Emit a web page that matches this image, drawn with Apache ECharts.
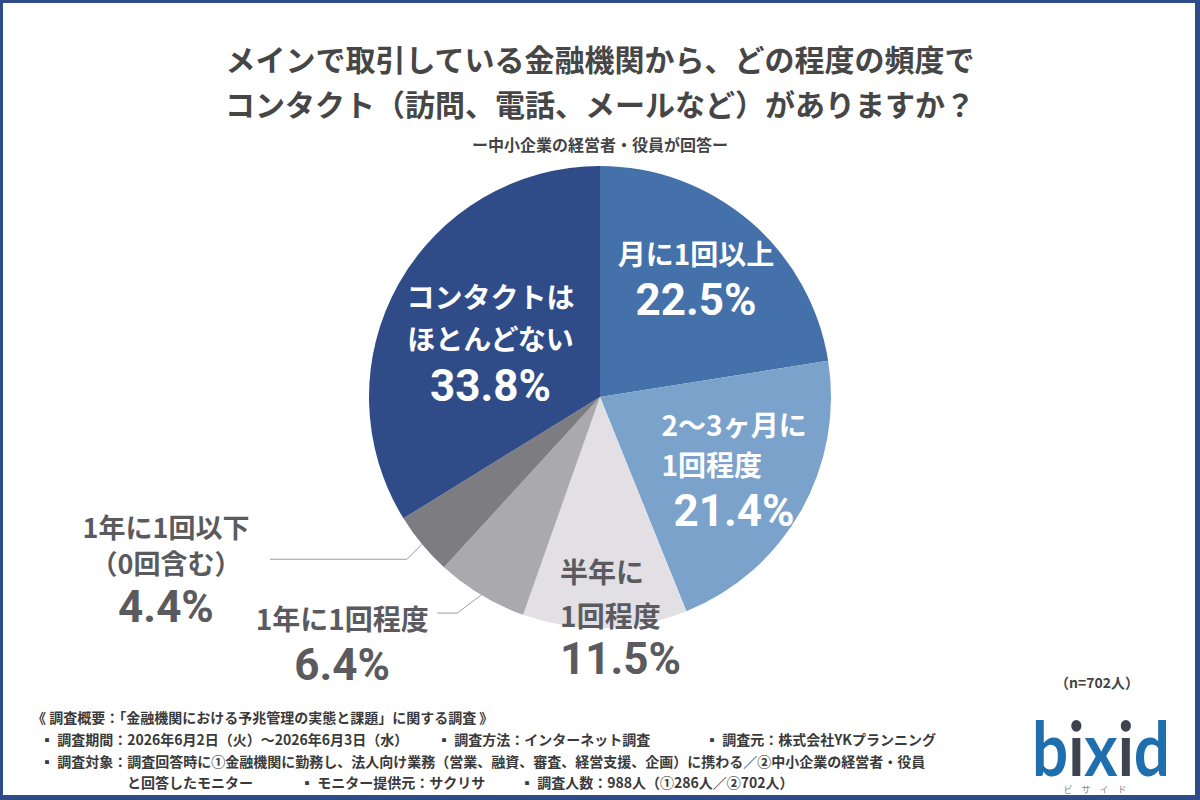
<!DOCTYPE html>
<html>
<head>
<meta charset="utf-8">
<script src="https://cdn.jsdelivr.net/npm/echarts@6/dist/echarts.min.js"></script>
<style>
html,body{margin:0;padding:0;background:#ffffff;}
#c{width:1200px;height:800px;}
</style>
</head>
<body>
<div id="c"></div>
<script>
// ---- data ----
const categories = ['月に1回以上', '2〜3ヶ月に1回程度', '半年に1回程度', '1年に1回程度', '1年に1回以下（0回含む）', 'コンタクトはほとんどない'];
const labelLines = [['月に1回以上'], ['2〜3ヶ月に', '1回程度'], ['半年に', '1回程度'], ['1年に1回程度'], ['1年に1回以下', '（0回含む）'], ['コンタクトは', 'ほとんどない']];
const values = [22.5, 21.4, 11.5, 6.4, 4.4, 33.8];
const titleLines = ['メインで取引している金融機関から、どの程度の頻度で', 'コンタクト（訪問、電話、メールなど）がありますか？'];
const subtitle = 'ー中小企業の経営者・役員が回答ー';
const sampleNote = '（n=702人）';
const footerLines = [
  [['《 調査概要：「金融機関における予兆管理の実態と課題」に関する調査 》', 32]],
  [['▪ 調査期間：2026年6月2日（火）〜2026年6月3日（水）', 40], ['▪ 調査方法：インターネット調査', 437], ['▪ 調査元：株式会社YKプランニング', 705]],
  [['▪ 調査対象：調査回答時に①金融機関に勤務し、法人向け業務（営業、融資、審査、経営支援、企画）に携わる／②中小企業の経営者・役員', 40]],
  [['と回答したモニター', 127], ['▪ モニター提供元：サクリサ', 300], ['▪ 調査人数：988人（①286人／②702人）', 520]]
];

// ---- styles ----
const colors = ['#4471aa', '#7aa2cb', '#e2e0e5', '#aaa9ad', '#7d7c81', '#2f4c88'];
const CJK = '"Noto Sans CJK JP", "Noto Sans", sans-serif';
const NUM = 'Roboto, "Noto Sans", sans-serif';
const CX = 600, CY = 397, R = 231;

// per-slice label styling (positions/sizes kept out of data arrays)
const labelCfg = [
  {pos: 'inside', color: '#ffffff', offset: [19, -27], fs: 28, lh: [40], plh: 54},
  {pos: 'inside', color: '#ffffff', offset: [31, 16], fs: 28, lh: [40, 40], plh: 54, align: [null, 'left']},
  {pos: 'inside', color: '#5b5b5f', offset: [18, 100], fs: 28, lh: [44, 44], plh: 44, align: ['left', 'left'], palign: 'left'},
  {pos: 'outside', color: '#5b5b5f', fs: 28, lh: [40], plh: 54, leader: {bend: [-24, 18], len2: 20, text: [-95, -15]}},
  {pos: 'outside', color: '#5b5b5f', fs: 27, lh: [36, 36], plh: 54, leader: {bend: [-15, 15], len2: 137, text: [-104, -51]}},
  {pos: 'inside', color: '#ffffff', offset: [-6, 5], fs: 28, lh: [42, 42], plh: 54}
];

const pieData = values.map(function (v, i) {
  const cfg = labelCfg[i];
  const rich = {};
  let parts = [];
  labelLines[i].forEach(function (t, k) {
    const key = 'l' + k;
    rich[key] = {fontFamily: CJK, fontWeight: 'bold', fontSize: cfg.fs, lineHeight: cfg.lh[k], color: cfg.color};
    if (cfg.align && cfg.align[k]) rich[key].align = cfg.align[k];
    parts.push('{' + key + '|' + t + '}');
  });
  rich.p = {fontFamily: NUM, fontWeight: 'bold', fontSize: 44, lineHeight: cfg.plh, color: cfg.color};
  if (cfg.palign) rich.p.align = cfg.palign;
  parts.push('{p|' + v.toFixed(1) + '%}');
  const item = {
    name: categories[i],
    value: v,
    itemStyle: {color: colors[i]},
    label: {
      show: true,
      position: cfg.pos,
      formatter: parts.join('\n'),
      rich: rich,
      color: cfg.color
    },
    labelLine: {show: cfg.pos === 'outside', lineStyle: {color: '#9c9ca4', width: 1}}
  };
  if (cfg.offset) item.label.offset = cfg.offset;
  return item;
});

// footer graphics
const graphics = [];
const footerY = [717, 739, 761, 782];
footerLines.forEach(function (line, li) {
  line.forEach(function (seg) {
    graphics.push({
      type: 'text', x: seg[1], y: footerY[li],
      style: {text: seg[0], font: 'bold 14px ' + CJK, fill: '#3a3a3a', verticalAlign: 'middle', align: 'left'}
    });
  });
});
graphics.push({
  type: 'text', x: 1097, y: 682,
  style: {text: sampleNote, font: 'bold 14px ' + CJK, fill: '#444444', verticalAlign: 'middle', align: 'center'}
});
// logo
graphics.push({
  type: 'text', x: 1032, y: 709, scaleX: 0.85, scaleY: 1,
  style: {
    text: '{b|b}{i|i}{b|x}{i|i}{b|d}',
    rich: {
      b: {font: 'bold 75px Lato, "DejaVu Sans", sans-serif', fill: '#1f6fae'},
      i: {font: 'bold 75px Lato, "DejaVu Sans", sans-serif', fill: '#3d4450'}
    },
    verticalAlign: 'top', align: 'left'
  }
});
graphics.push({
  type: 'text', x: 1095, y: 789,
  style: {text: 'ビ　サ　イ　ド', font: '9px ' + CJK, fill: '#888888', verticalAlign: 'middle', align: 'center'}
});
// frame
const frameColor = '#2e4b8a';
[[0, 0, 1200, 3], [0, 0, 3, 800], [1195, 0, 5, 800], [0, 795, 1200, 5]].forEach(function (r) {
  graphics.push({type: 'rect', shape: {x: r[0], y: r[1], width: r[2], height: r[3]}, style: {fill: frameColor}, z: 100});
});

const chart = echarts.init(document.getElementById('c'), null, {renderer: 'svg'});
chart.setOption({
  backgroundColor: '#ffffff',
  animation: false,
  title: [
    {
      text: titleLines.join('\n'), left: 'center', top: 30,
      textStyle: {fontFamily: CJK, fontWeight: 'bold', fontSize: 30, lineHeight: 45, color: '#464646'}
    },
    {
      text: subtitle, left: 'center', top: 129,
      textStyle: {fontFamily: CJK, fontWeight: 'bold', fontSize: 16, lineHeight: 20, color: '#444444'}
    }
  ],
  series: [{
    type: 'pie',
    center: [CX, CY],
    radius: [0, R],
    startAngle: 90,
    clockwise: true,
    avoidLabelOverlap: false,
    emphasis: {disabled: true},
    itemStyle: {borderWidth: 0},
    labelLayout: function (p) {
      const cfg = labelCfg[p.dataIndex];
      if (!cfg || !cfg.leader || !p.labelLinePoints) return {};
      const e = p.labelLinePoints[0];
      const bend = [e[0] + cfg.leader.bend[0], e[1] + cfg.leader.bend[1]];
      const end = [bend[0] - cfg.leader.len2, bend[1]];
      return {
        x: end[0] + cfg.leader.text[0],
        y: end[1] + cfg.leader.text[1],
        align: 'center',
        verticalAlign: 'top',
        labelLinePoints: [[e[0], e[1]], bend, end]
      };
    },
    data: pieData
  }],
  graphic: graphics
});
</script>
</body>
</html>
